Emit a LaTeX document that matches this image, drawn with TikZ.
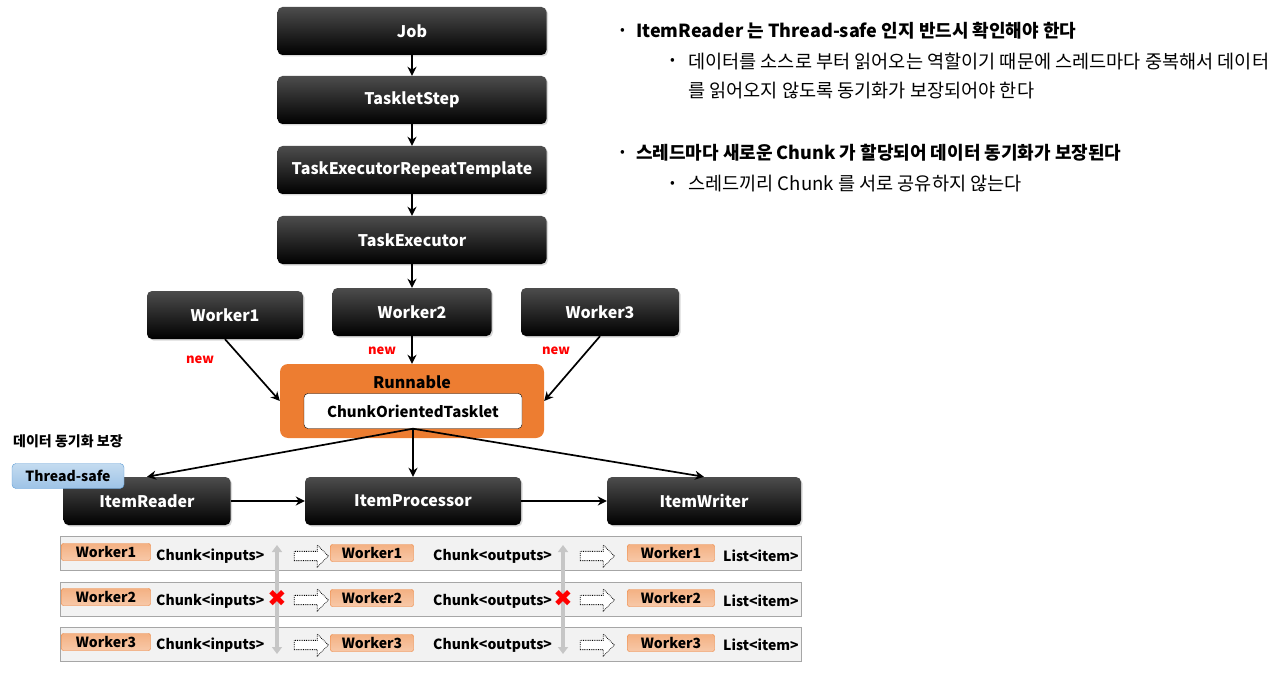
\documentclass[tikz,border=0pt]{standalone}
\usepackage{fontspec}
\setmainfont{Noto Sans CJK KR}
\newfontfamily\symfont{DejaVu Sans}
\usepackage{xcolor}
\usetikzlibrary{positioning,calc,arrows.meta,shapes.arrows,shadows}
\definecolor{runorange}{RGB}{237,125,49}
\definecolor{tagfill}{RGB}{244,177,131}
\definecolor{safeblue}{RGB}{157,195,230}
\definecolor{safeedge}{RGB}{91,155,213}
\definecolor{rowgray}{RGB}{242,242,242}

\tikzset{
  blackbox/.style={rounded corners=5pt, top color=black!70, middle color=black, bottom color=black,
    text=white, font=\bfseries\fontsize{16}{18}\selectfont, minimum height=48,
    drop shadow={opacity=0.3,shadow xshift=1.5pt,shadow yshift=-1.5pt}},
  tag/.style={rounded corners=2pt, draw=runorange, top color=tagfill, bottom color=tagfill!70!white,
    font=\bfseries\fontsize{14}{16}\selectfont, minimum height=17, inner sep=0pt},
  rowbox/.style={draw=black!35, fill=rowgray, minimum width=741, minimum height=34},
  rowtext/.style={anchor=west, inner sep=0pt, font=\bfseries\fontsize{14}{16}\selectfont},
  hollow/.style={single arrow, draw=black, fill=white, densely dotted, line width=0.8pt,
    minimum height=34, minimum width=22, single arrow head extend=4pt, inner sep=2.5pt},
  flow/.style={-{Stealth[length=9pt,width=9pt]}, line width=1.7pt},
  newtag/.style={text=red, font=\bfseries\fontsize{13}{15}\selectfont},
  nocross/.style={text=red, font=\symfont\fontsize{23}{23}\selectfont, inner sep=0pt},
  note/.style={anchor=west, inner sep=0pt, font=\fontsize{18.6}{20}\selectfont},
  keynote/.style={anchor=west, inner sep=0pt, font=\bfseries\fontsize{18}{20}\selectfont},
  dot/.style={anchor=west, inner sep=0pt, font=\fontsize{14}{16}\selectfont}
}

\begin{document}
\begin{tikzpicture}[x=1pt,y=-1pt]
  \useasboundingbox (0,0) rectangle (1285,687);

  % main chain
  \node[blackbox, minimum width=269] (job) at (412,31) {Job};
  \node[blackbox, minimum width=269] (step) at (412,100) {TaskletStep};
  \node[blackbox, minimum width=269] (template) at (412,170) {TaskExecutorRepeatTemplate};
  \node[blackbox, minimum width=269] (executor) at (412,240) {TaskExecutor};

  \draw[flow] (job) -- (step);
  \draw[flow] (step) -- (template);
  \draw[flow] (template) -- (executor);

  % workers
  \node[blackbox, minimum width=156] (worker1) at (225,315) {Worker1};
  \node[blackbox, minimum width=159] (worker2) at (412,312) {Worker2};
  \node[blackbox, minimum width=158] (worker3) at (600,312) {Worker3};

  \draw[flow] (executor) -- (worker2);

  % runnable
  \node[rounded corners=8pt, fill=runorange, minimum width=264, minimum height=74] (runnable) at (412,401) {};
  \node[font=\bfseries\fontsize{16}{18}\selectfont] (runlabel) at (412,382) {Runnable};
  \node[rounded corners=4pt, draw=black, fill=white, minimum width=218, minimum height=35,
    font=\bfseries\fontsize{15}{17}\selectfont] (tasklet) at (413,411) {ChunkOrientedTasklet};

  \draw[flow] (worker1.south) -- (runnable.west);
  \draw[flow] (worker2.south) -- (runnable.north);
  \draw[flow] (worker3.south) -- (runnable.east);

  \node[newtag] (new1) at (200,360) {new};
  \node[newtag] (new2) at (382,351) {new};
  \node[newtag] (new3) at (556,351) {new};

  % item handlers
  \node[blackbox, minimum width=167] (reader) at (147,501) {ItemReader};
  \node[blackbox, minimum width=216] (processor) at (413,501) {ItemProcessor};
  \node[blackbox, minimum width=194] (writer) at (704,501) {ItemWriter};

  \node[rounded corners=4pt, draw=safeedge, top color=safeblue!60!white, bottom color=safeblue,
    minimum width=112, minimum height=25, font=\bfseries\fontsize{14}{16}\selectfont] (safe) at (68,476) {Thread-safe};
  \node[anchor=west, inner sep=0pt, font=\bfseries\fontsize{14}{16}\selectfont] (synclabel) at (13,441) {데이터 동기화 보장};

  \draw[flow] (tasklet.south) -- (reader.north);
  \draw[flow] (tasklet.south) -- (processor.north);
  \draw[flow] (tasklet.south) -- (writer.north);
  \draw[flow] (reader) -- (processor);
  \draw[flow] (processor) -- (writer);

  % chunk rows
  \node[rowbox] (row1) at (430.5,553.5) {};
  \node[rowbox] (row2) at (430.5,599) {};
  \node[rowbox] (row3) at (430.5,644.5) {};

  \node[tag, minimum width=89] (in1) at (106,552) {Worker1};
  \node[tag, minimum width=89] (in2) at (106,597) {Worker2};
  \node[tag, minimum width=89] (in3) at (106,642) {Worker3};
  \node[rowtext] (inputs1) at (156,556) {Chunk<inputs>};
  \node[rowtext] (inputs2) at (156,601) {Chunk<inputs>};
  \node[rowtext] (inputs3) at (156,645) {Chunk<inputs>};

  \node[tag, minimum width=83] (mid1) at (372,553) {Worker1};
  \node[tag, minimum width=83] (mid2) at (372,598) {Worker2};
  \node[tag, minimum width=83] (mid3) at (372,643) {Worker3};
  \node[rowtext] (outputs1) at (433,556) {Chunk<outputs>};
  \node[rowtext] (outputs2) at (433,601) {Chunk<outputs>};
  \node[rowtext] (outputs3) at (433,645) {Chunk<outputs>};

  \node[tag, minimum width=87] (out1) at (671,553) {Worker1};
  \node[tag, minimum width=87] (out2) at (671,598) {Worker2};
  \node[tag, minimum width=87] (out3) at (671,643) {Worker3};
  \node[rowtext] (list1) at (723,556) {List<item>};
  \node[rowtext] (list2) at (723,601) {List<item>};
  \node[rowtext] (list3) at (723,645) {List<item>};

  \node[hollow] (pass1) at (309,556) {};
  \node[hollow] (pass2) at (309,600) {};
  \node[hollow] (pass3) at (309,645) {};
  \node[hollow] (hand1) at (595,556) {};
  \node[hollow] (hand2) at (595,600) {};
  \node[hollow] (hand3) at (595,645) {};

  % no sharing between threads
  \coordinate (lefttop) at (277,545);
  \coordinate (leftbot) at (277,654);
  \coordinate (righttop) at (563,545);
  \coordinate (rightbot) at (563,654);
  \draw[line width=4pt, gray!45, {Triangle[length=7pt,width=10pt]}-{Triangle[length=7pt,width=10pt]}] (lefttop) -- (leftbot);
  \draw[line width=4pt, gray!45, {Triangle[length=7pt,width=10pt]}-{Triangle[length=7pt,width=10pt]}] (righttop) -- (rightbot);
  \node[nocross] (cross1) at (277,598) {✖};
  \node[nocross] (cross2) at (563,598) {✖};

  % notes
  \node[dot] (b1) at (620,31) {•};
  \node[keynote] (n1) at (636,31) {ItemReader 는 Thread-safe 인지 반드시 확인해야 한다};
  \node[dot] (b2) at (670,61) {•};
  \node[note] (n2) at (688,61) {데이터를 소스로 부터 읽어오는 역할이기 때문에 스레드마다 중복해서 데이터};
  \node[note] (n3) at (688,91) {를 읽어오지 않도록 동기화가 보장되어야 한다};
  \node[dot] (b3) at (620,153) {•};
  \node[keynote] (n4) at (636,153) {스레드마다 새로운 Chunk 가 할당되어 데이터 동기화가 보장된다};
  \node[dot] (b4) at (670,184) {•};
  \node[note] (n5) at (688,184) {스레드끼리 Chunk 를 서로 공유하지 않는다};
\end{tikzpicture}
\end{document}
